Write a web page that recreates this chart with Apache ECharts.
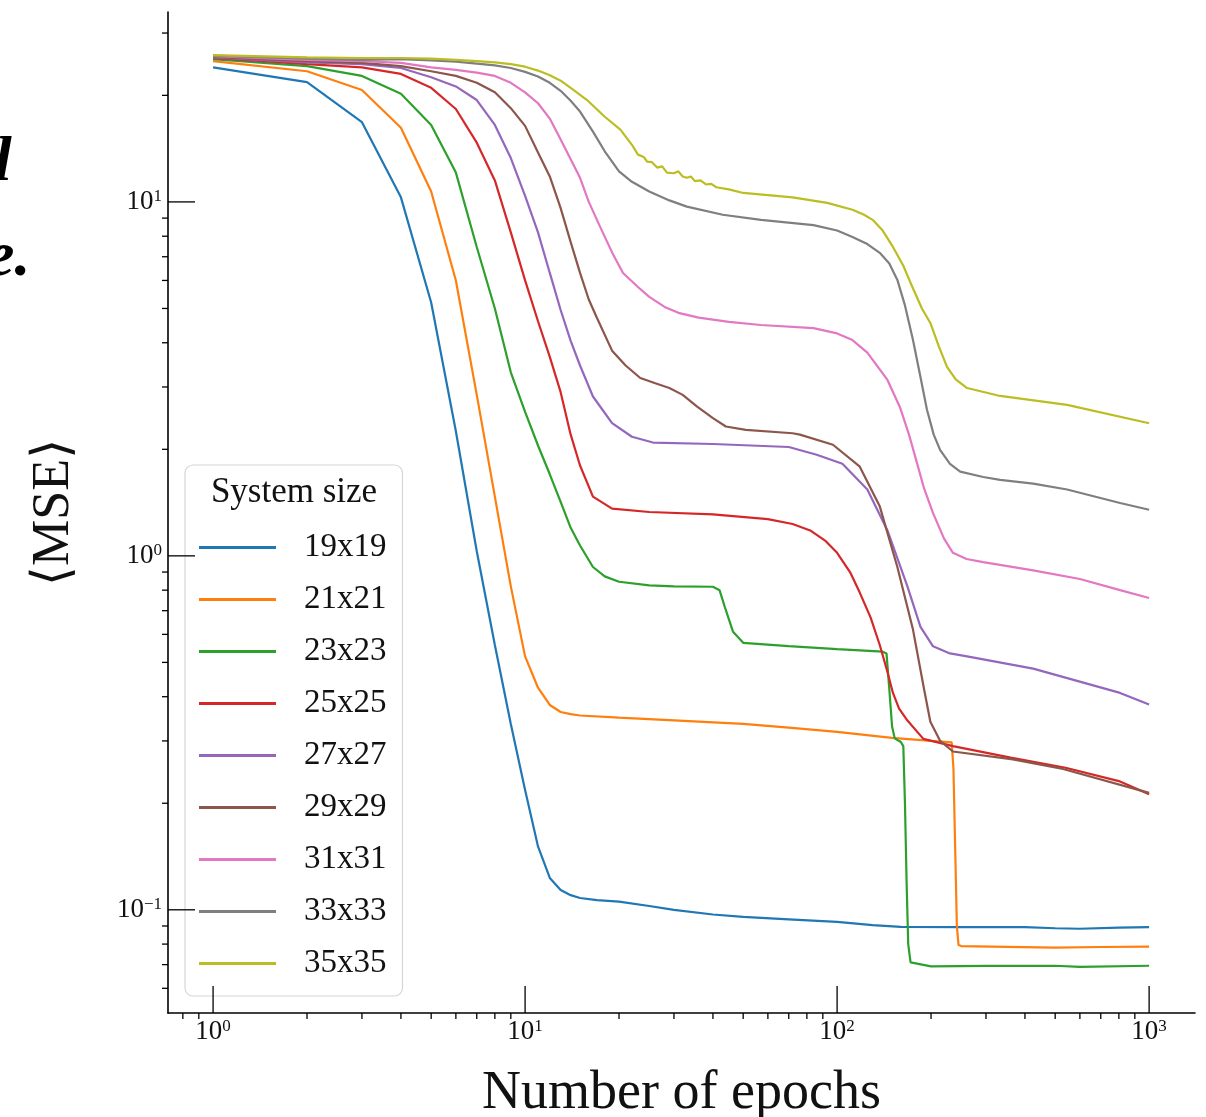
<!DOCTYPE html>
<html>
<head>
<meta charset="utf-8">
<script src="https://cdn.jsdelivr.net/npm/echarts@6/dist/echarts.min.js"></script>
<style>
  html, body { margin: 0; padding: 0; background: #fff; }
  #chart { width: 1206px; height: 1117px; }
</style>
</head>
<body>
<div id="chart"></div>
<script>
// system sizes shown in the legend
const sizeLabels = ['19x19', '21x21', '23x23', '25x25', '27x27', '29x29', '31x31', '33x33', '35x35']
const colors = ['#1f77b4', '#ff7f0e', '#2ca02c', '#d62728', '#9467bd', '#8c564b', '#e377c2', '#7f7f7f', '#bcbd22']

// [epoch, mean MSE]
const mse19 = [[1,24.0],[2,21.8],[3,16.8],[4,10.3],[5,5.2],[6,2.25],[7,1.03],[8,0.56],[9,0.335],[10,0.218],[11,0.151],[12,0.123],[13,0.1137],[14,0.110],[15,0.108],[17,0.1065],[20,0.1055],[25,0.1025],[30,0.1],[40,0.097],[50,0.0955],[70,0.094],[100,0.0925],[130,0.0905],[160,0.0895],[250,0.0893],[400,0.0893],[500,0.0887],[600,0.0884],[800,0.089],[1000,0.0893]]
const mse21 = [[1,25.0],[2,23.4],[3,20.7],[4,16.2],[5,10.7],[6,6.0],[7,2.85],[8,1.47],[9,0.82],[10,0.52],[11,0.424],[12,0.379],[13,0.362],[14,0.357],[15,0.354],[20,0.349],[30,0.343],[50,0.335],[70,0.327],[100,0.318],[150,0.306],[200,0.300],[233,0.297],[236,0.25],[239,0.15],[242,0.09],[245,0.0795],[250,0.079],[350,0.0786],[500,0.0782],[700,0.0785],[1000,0.0787]]
const mse23 = [[1,25.3],[2,24.2],[3,22.7],[4,20.2],[5,16.5],[6,12.1],[7,7.46],[8,5.0],[9,3.3],[10,2.55],[11,2.05],[12,1.7],[13,1.42],[14,1.2],[15,1.07],[16.5,0.93],[18,0.875],[20,0.845],[25,0.825],[30,0.82],[40,0.818],[42,0.80],[43.6,0.72],[46.4,0.61],[50,0.568],[70,0.556],[100,0.545],[140,0.536],[144,0.53],[147,0.42],[150,0.33],[153,0.305],[160,0.298],[163,0.29],[165,0.2],[167,0.12],[169,0.08],[172,0.071],[200,0.0692],[300,0.0694],[500,0.0695],[600,0.069],[1000,0.0695]]
const mse25 = [[1,25.5],[2,24.5],[3,24.0],[4,23.0],[5,21.0],[6,18.3],[7,14.7],[8,11.5],[9,8.2],[10,6.0],[11,4.6],[12,3.65],[13,2.9],[14,2.2],[15,1.8],[16.5,1.47],[19,1.36],[25,1.33],[40,1.31],[60,1.27],[72,1.23],[82,1.18],[92,1.1],[100,1.02],[110,0.90],[118,0.79],[128,0.67],[137,0.56],[145,0.47],[151,0.41],[158,0.37],[167,0.345],[189,0.304],[235,0.29],[360,0.269],[540,0.252],[800,0.231],[1000,0.212]]
const mse27 = [[1,25.6],[2,24.8],[3,24.5],[4,23.9],[5,22.5],[6,21.2],[7,19.4],[8,16.5],[9,13.3],[10,10.4],[11,8.2],[12,6.3],[13,4.95],[14,4.05],[15,3.45],[16.5,2.82],[19,2.37],[22,2.17],[25.7,2.09],[40,2.07],[70,2.03],[86,1.93],[104,1.82],[125,1.54],[145,1.18],[168,0.82],[185,0.63],[203,0.555],[230,0.53],[261,0.52],[425,0.48],[807,0.41],[1000,0.38]]
const mse29 = [[1,25.7],[2,25.0],[3,24.7],[4,24.2],[5,23.4],[6,22.7],[7,21.7],[8,20.4],[9,18.4],[10,16.4],[11,13.8],[12,11.8],[13,9.6],[14,7.7],[15,6.3],[16,5.3],[17,4.7],[19,3.8],[21,3.45],[23.4,3.18],[26,3.08],[29,2.98],[32,2.85],[35.6,2.64],[40,2.45],[44,2.32],[51,2.27],[72,2.22],[76,2.20],[97,2.06],[118,1.79],[137,1.38],[156,0.93],[175,0.62],[190,0.42],[199,0.34],[214,0.30],[235,0.28],[366,0.266],[530,0.25],[1000,0.214]]
const mse31 = [[1,25.8],[2,25.2],[3,25.0],[4,24.7],[5,24.0],[6,23.6],[7,23.2],[8,22.7],[9,21.7],[10,20.4],[11,19.0],[12,17.2],[13,15.0],[14,13.2],[15,11.7],[16,10.0],[17.4,8.5],[19,7.2],[20.6,6.3],[23,5.75],[25,5.39],[28,5.05],[31,4.86],[36,4.71],[45,4.58],[57,4.49],[84,4.4],[100,4.25],[112,4.07],[125,3.75],[145,3.14],[159,2.63],[170,2.2],[180,1.84],[190,1.55],[203,1.32],[220,1.12],[235,1.02],[260,0.98],[294,0.96],[425,0.91],[600,0.86],[807,0.80],[1000,0.76]]
const mse33 = [[1,25.9],[2,25.4],[3,25.2],[4,25.3],[5,25.1],[6,24.9],[7,24.6],[8,24.3],[9,23.9],[10,23.3],[11,22.6],[12,21.7],[13,20.6],[14,19.3],[15,18.0],[16.5,15.8],[18,13.9],[20,12.2],[22,11.4],[25,10.7],[29,10.1],[33,9.7],[43,9.2],[57,8.9],[84,8.6],[100,8.3],[112,7.96],[125,7.6],[137,7.18],[147,6.7],[156,6.02],[165,5.1],[175,4.08],[185,3.2],[194,2.59],[204,2.2],[214,1.99],[230,1.82],[248,1.73],[294,1.67],[333,1.64],[425,1.6],[546,1.54],[807,1.41],[1000,1.35]]
const mse35 = [[1,26.0],[2,25.6],[3,25.5],[4,25.5],[5,25.4],[6,25.2],[7,25.0],[8,24.8],[9,24.5],[10,24.1],[11,23.5],[12,22.8],[13,22.0],[14,21.0],[15.8,19.4],[18,17.4],[20.2,16.0],[22,14.5],[23,13.6],[24,13.4],[24.6,13.0],[25.5,12.95],[26.5,12.5],[27.5,12.6],[28.5,12.1],[30,12.05],[31,12.2],[32,11.8],[33,11.7],[34,11.8],[35,11.45],[36.5,11.5],[38,11.2],[39.5,11.25],[41,11.0],[45,10.85],[50,10.6],[72,10.3],[93,9.94],[112,9.5],[122,9.2],[130,8.9],[140,8.3],[151,7.46],[163,6.6],[175,5.7],[187,5.0],[199,4.55],[212,3.9],[225,3.42],[240,3.15],[261,2.98],[333,2.83],[546,2.67],[1000,2.37]]
const allSeries = [mse19, mse21, mse23, mse25, mse27, mse29, mse31, mse33, mse35]

// axis extents (log) and tick decades
const xMin = 0.717, xMax = 1403
const yMin = 0.0511, yMax = 34.4
const xDecades = [0, 1, 2, 3]
const yDecades = [-1, 0, 1]

const serif = "'Liberation Serif', 'DejaVu Serif', serif"

function powLabel(v) {
  const l = Math.log10(v)
  const e = Math.round(l)
  if (Math.abs(l - e) > 1e-6) return ''
  return '{b|10}{s|' + (e < 0 ? '\u2212' + (-e) : e) + '}'
}

const labelRich = {
  b: { fontFamily: serif, fontSize: 27, lineHeight: 27, color: '#111' },
  s: { fontFamily: serif, fontSize: 17, lineHeight: 27, verticalAlign: 'top', padding: [0, 0, 6, 0], color: '#111' }
}

const chart = echarts.init(document.getElementById('chart'))

const option = {
  animation: false,
  backgroundColor: '#fff',
  color: colors,
  grid: { left: 168, right: 11, top: 12, bottom: 104, containLabel: false, outerBoundsMode: 'none' },
  xAxis: {
    type: 'log', logBase: 10, min: xMin, max: xMax,
    axisLine: { show: true, lineStyle: { color: '#000', width: 1.6 } },
    axisTick: { show: false },
    splitLine: { show: false },
    axisLabel: { formatter: powLabel, rich: labelRich, margin: 5 },
    name: 'Number of epochs', nameLocation: 'middle', nameGap: 54,
    nameTextStyle: { fontFamily: serif, fontSize: 54, color: '#111' }
  },
  yAxis: {
    type: 'log', logBase: 10, min: yMin, max: yMax,
    axisLine: { show: true, lineStyle: { color: '#000', width: 1.6 } },
    axisTick: { show: false },
    splitLine: { show: false },
    axisLabel: { formatter: powLabel, rich: labelRich, margin: 6 },
    name: '\u27e8MSE\u27e9', nameLocation: 'middle', nameGap: 88,
    nameTextStyle: { fontFamily: serif, fontSize: 52, color: '#111' }
  },
  legend: {
    data: sizeLabels, orient: 'vertical', left: 185, top: 465,
    padding: [66, 16, 16, 14], itemWidth: 77, itemHeight: 3, itemGap: 19,
    icon: 'rect', selectedMode: false,
    backgroundColor: 'rgba(255,255,255,0.85)', borderColor: '#d6d6d6', borderWidth: 1.2, borderRadius: 8,
    textStyle: { fontFamily: serif, fontSize: 33, color: '#111', padding: [0, 0, 0, 23] }
  },
  series: sizeLabels.map((name, i) => ({
    name, type: 'line', data: allSeries[i], showSymbol: false,
    lineStyle: { width: 2.2, color: colors[i] }, itemStyle: { color: colors[i] }
  }))
}

chart.setOption(option)

// ticks: major inward, minor outward, placed through the axis scales
const tickEls = []
const x0 = chart.convertToPixel({ xAxisIndex: 0 }, xMin)
const y0 = chart.convertToPixel({ yAxisIndex: 0 }, yMin)
function tick(x1, y1, x2, y2) {
  tickEls.push({ type: 'line', z: 50, shape: { x1, y1, x2, y2 }, style: { stroke: '#000', lineWidth: 1.3 } })
}
xDecades.forEach(d => {
  const p = chart.convertToPixel({ xAxisIndex: 0 }, Math.pow(10, d))
  tick(p, y0, p, y0 - 27)
})
for (let d = -1; d <= 3; d++) {
  for (let k = 2; k <= 9; k++) {
    const v = k * Math.pow(10, d)
    if (v < xMin || v > xMax) continue
    const p = chart.convertToPixel({ xAxisIndex: 0 }, v)
    tick(p, y0, p, y0 + 6)
  }
}
yDecades.forEach(d => {
  const p = chart.convertToPixel({ yAxisIndex: 0 }, Math.pow(10, d))
  tick(x0, p, x0 + 27, p)
})
for (let d = -2; d <= 1; d++) {
  for (let k = 2; k <= 9; k++) {
    const v = k * Math.pow(10, d)
    if (v < yMin || v > yMax) continue
    const p = chart.convertToPixel({ yAxisIndex: 0 }, v)
    tick(x0, p, x0 - 6, p)
  }
}

chart.setOption({
  graphic: [
    ...tickEls,
    { type: 'text', z: 60, x: 294, y: 493, style: { text: 'System size', font: '35px ' + serif, fill: '#111', textAlign: 'center', textVerticalAlign: 'middle' } },
    { type: 'text', z: 60, x: -6, y: 163, style: { text: 'l', font: 'italic bold 64px ' + serif, fill: '#000', textVerticalAlign: 'middle' } },
    { type: 'text', z: 60, x: -14, y: 258, style: { text: 'e.', font: 'italic bold 64px ' + serif, fill: '#000', textVerticalAlign: 'middle' } }
  ]
})
</script>
</body>
</html>
